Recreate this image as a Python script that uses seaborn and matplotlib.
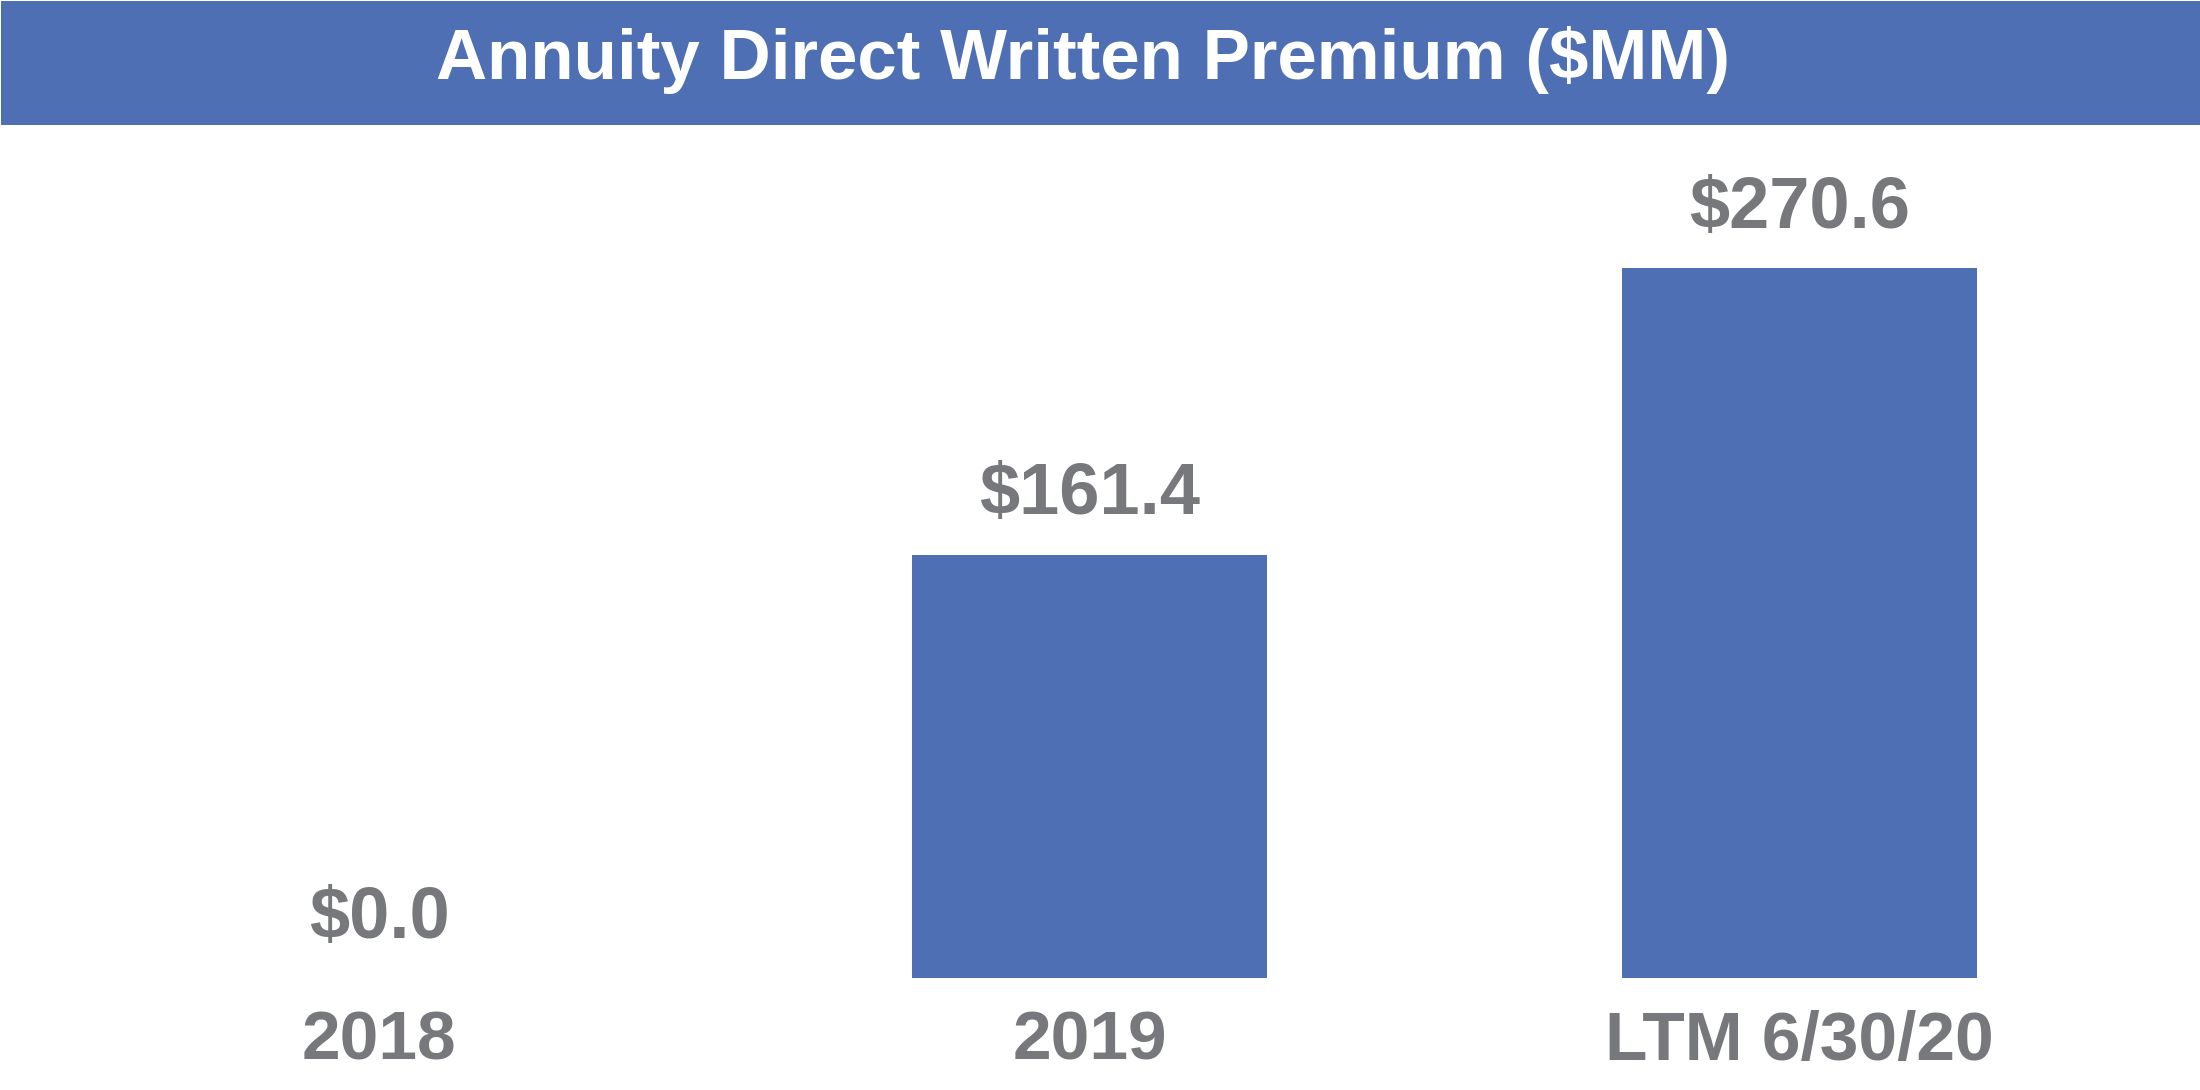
import matplotlib
matplotlib.use("Agg")
import matplotlib.pyplot as plt
import seaborn as sns
import pandas as pd
from matplotlib.patches import Rectangle

categories = ["2018", "2019", "LTM 6/30/20"]
values = [0.0, 161.4, 270.6]
value_labels = ["$0.0", "$161.4", "$270.6"]
title = "Annuity Direct Written Premium ($MM)"

BLUE = "#4E6FB4"
GRAY = "#77787B"
W, H = 2200, 1090
DPI = 100

sns.set_theme(style="white")
plt.rcParams["font.family"] = ["Liberation Sans", "DejaVu Sans"]

fig = plt.figure(figsize=(W / DPI, H / DPI), dpi=DPI)
fig.patch.set_facecolor("white")

# axes: bottom of bars at y=978 px from top, x centers at 379/1090/1800
ax_left = 24 / W
ax_right = 2155 / W
ax_bottom = 1 - 978 / H
ax_top = 1 - 191 / H
ax = fig.add_axes([ax_left, ax_bottom, ax_right - ax_left, ax_top - ax_bottom])

df = pd.DataFrame({"cat": categories, "val": values})
sns.barplot(data=df, x="cat", y="val", color=BLUE, saturation=1, width=0.5,
            linewidth=0, ax=ax)
ax.set_xlim(-0.5, 2.5)
ax.set_ylim(0, 300)
for s in ax.spines.values():
    s.set_visible(False)
ax.set_yticks([])
ax.set_xlabel("")
ax.set_ylabel("")
ax.tick_params(axis="x", length=0, pad=23, labelsize=50, labelcolor=GRAY)
for t in ax.get_xticklabels():
    t.set_fontweight("bold")

for i, (v, lab) in enumerate(zip(values, value_labels)):
    ax.annotate(lab, xy=(i, v), xytext=(0, 29), textcoords="offset points",
                ha="center", va="baseline", fontsize=52, fontweight="bold",
                color=GRAY)

# title bar
fig.patches.append(Rectangle((1 / W, 1 - 125 / H), 1 - 1 / W, 124 / H,
                             transform=fig.transFigure, facecolor=BLUE,
                             edgecolor="none", zorder=0))
fig.text(1083 / W, 1 - 79 / H, title, ha="center", va="baseline",
         fontsize=51, fontweight="bold", color="white")

fig.savefig("out.png", dpi=DPI, facecolor="white")
